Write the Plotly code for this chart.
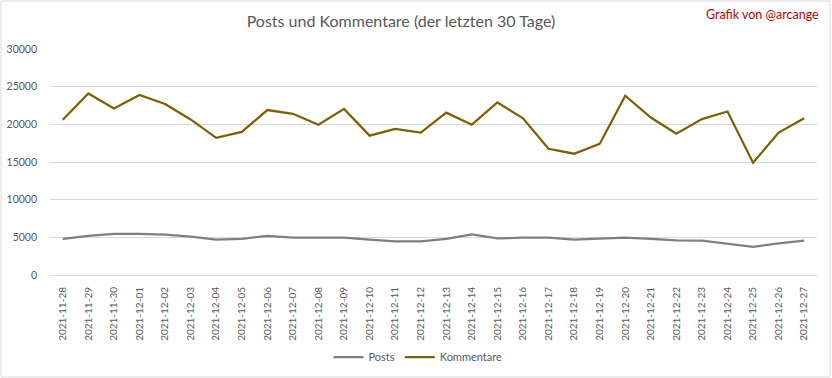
import plotly.graph_objects as go

dates = ["2021-11-28","2021-11-29","2021-11-30","2021-12-01","2021-12-02","2021-12-03",
         "2021-12-04","2021-12-05","2021-12-06","2021-12-07","2021-12-08","2021-12-09",
         "2021-12-10","2021-12-11","2021-12-12","2021-12-13","2021-12-14","2021-12-15",
         "2021-12-16","2021-12-17","2021-12-18","2021-12-19","2021-12-20","2021-12-21",
         "2021-12-22","2021-12-23","2021-12-24","2021-12-25","2021-12-26","2021-12-27"]
posts = [4800, 5200, 5450, 5450, 5350, 5100, 4700, 4800, 5200, 4950, 4950, 4950,
         4700, 4450, 4450, 4800, 5400, 4850, 4950, 4950, 4700, 4800, 4950, 4800,
         4600, 4550, 4150, 3750, 4200, 4550]
kommentare = [20600, 24100, 22100, 23900, 22700, 20650, 18200, 19000, 21900, 21400, 19950, 22050,
              18500, 19400, 18900, 21550, 19950, 22900, 20800, 16750, 16100, 17400, 23800, 20900,
              18750, 20700, 21700, 14900, 18900, 20800]
y_ticks = [0, 5000, 10000, 15000, 20000, 25000, 30000]
y_tick_labels = ["0", "5000", "10000", "15000", "20000", "25000", "30000"]

FONT = "Lato"
fig = go.Figure()
fig.add_trace(go.Scatter(x=dates, y=posts, mode="lines", name="Posts",
                         line=dict(color="#7f7f7f", width=2.25)))
fig.add_trace(go.Scatter(x=dates, y=kommentare, mode="lines", name="Kommentare",
                         line=dict(color="#7f6000", width=2.25)))

W, H = 832, 378
ml, mr, mt, mb = 50, 15, 49, 103
pw, ph = W - ml - mr, H - mt - mb

fig.update_layout(
    width=W, height=H,
    margin=dict(l=ml, r=mr, t=mt, b=mb, autoexpand=False),
    paper_bgcolor="white", plot_bgcolor="white",
    font=dict(family=FONT, color="#595959"),
    title=dict(text="Posts und Kommentare (der letzten 30 Tage)",
               x=401 / W, xref="container", xanchor="center",
               y=1 - 21 / H, yref="container", yanchor="middle",
               font=dict(size=16, color="#595959", family=FONT)),
    showlegend=True,
    legend=dict(orientation="h", x=(418 - ml) / pw, xanchor="center",
                y=-(357 - (mt + ph)) / ph, yanchor="middle",
                font=dict(size=11, color="#595959"), itemwidth=30,
                bgcolor="rgba(0,0,0,0)"),
    xaxis=dict(type="category", range=[-0.5, len(dates) - 0.5], showgrid=False,
               showline=True, linecolor="#d9d9d9", automargin=False,
               linewidth=1, tickangle=-90, tickfont=dict(size=10, color="#595959"),
               ticks="", ticklabelstandoff=7, fixedrange=True),
    yaxis=dict(range=[0, 30000], tickvals=y_ticks, ticktext=y_tick_labels,
               showgrid=True, gridcolor="#d9d9d9", automargin=False,
               gridwidth=1, zeroline=False, showline=False,
               tickfont=dict(size=10.5, color="#595959"), ticklabelstandoff=12,
               fixedrange=True),
    annotations=[dict(text="Grafik von @arcange", xref="paper", yref="paper",
                      x=(821 - ml) / pw, y=1 + (mt - 14) / ph, xanchor="right",
                      yanchor="middle", showarrow=False,
                      font=dict(size=12.5, color="#c00000", family=FONT))],
    shapes=[dict(type="rect", xref="paper", yref="paper",
                 x0=(1 - ml) / pw, x1=(W - 2 - ml) / pw,
                 y0=-(mb - 1) / ph, y1=1 + (mt - 1) / ph,
                 line=dict(color="#d9d9d9", width=1), layer="below")],
)
fig.write_html("out.html", config={"displayModeBar": False},
               post_script="document.body.style.margin='0';document.body.style.overflow='hidden';")
